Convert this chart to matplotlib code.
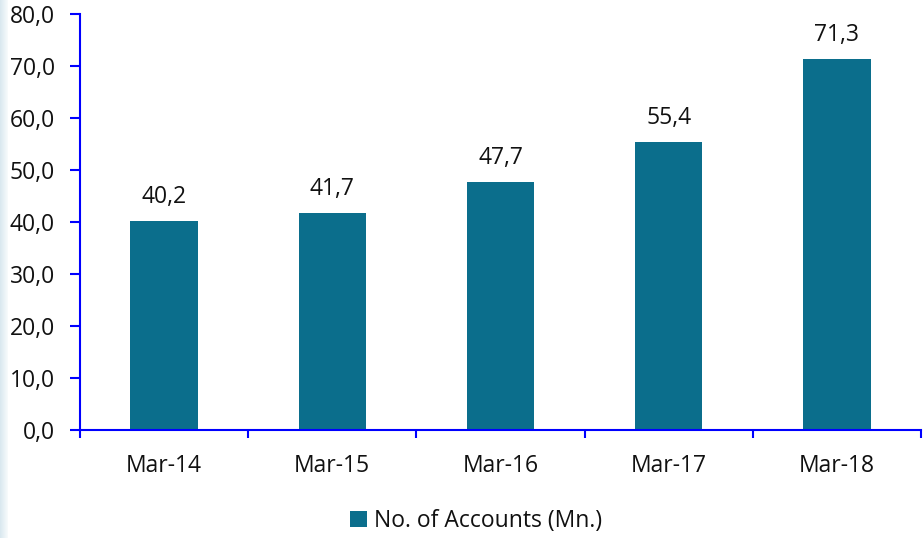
import numpy as np
import matplotlib.pyplot as plt
from matplotlib.patches import Rectangle

plt.rcParams['font.family'] = ['Open Sans', 'DejaVu Sans']

# data
categories = ["Mar-14", "Mar-15", "Mar-16", "Mar-17", "Mar-18"]
accounts = [40.2, 41.7, 47.7, 55.4, 71.3]
series_name = "No. of Accounts (Mn.)"

BAR_COLOR = "#0b6e8c"
AXIS_COLOR = "#0000ff"
FS = 16.5

fig = plt.figure(figsize=(9.24, 5.38), dpi=100)
ax = fig.add_axes([80 / 924, 1 - 430 / 538, (921 - 80) / 924, (430 - 14) / 538])

# faint stripe on the left edge
for i in range(8):
    fig.patches.append(Rectangle((i / 924, 0), 1 / 924, 1, transform=fig.transFigure,
                                 color="#d6e6ee", alpha=0.9 - i * 0.1, lw=0, zorder=0))

x = np.arange(len(categories))
bars = ax.bar(x, accounts, width=0.4, color=BAR_COLOR, label=series_name, zorder=2)

for xi, v in zip(x, accounts):
    ax.text(xi, v + 2.3, f"{v:.1f}".replace(".", ","), ha="center", va="bottom",
            fontsize=FS, color="#111111")

ax.set_xlim(-0.5, len(categories) - 0.5)
ax.set_ylim(0, 80)
ax.set_yticks(np.arange(0, 81, 10))
ax.set_yticklabels([f"{t:.1f}".replace(".", ",") for t in np.arange(0, 81, 10)],
                   fontsize=FS, color="#111111")

# category labels centred, tick marks between categories
ax.set_xticks(x)
ax.set_xticklabels(categories, fontsize=FS, color="#111111")
ax.tick_params(axis="x", length=0, pad=17)
ax.set_xticks(np.arange(-0.5, len(categories)), minor=True)
ax.tick_params(axis="x", which="minor", length=6, color=AXIS_COLOR, width=1.5)
ax.tick_params(axis="y", length=7, color=AXIS_COLOR, width=1.5, pad=11)

for side in ["top", "right"]:
    ax.spines[side].set_visible(False)
for side in ["left", "bottom"]:
    ax.spines[side].set_color(AXIS_COLOR)
    ax.spines[side].set_linewidth(1.5)

leg = fig.legend(loc="center", bbox_to_anchor=(476 / 924, 1 - 521 / 538), frameon=False,
                 fontsize=FS, handlelength=0.75, handleheight=0.75, handletextpad=0.3,
                 labelcolor="#111111")

fig.savefig("out.png", dpi=100)
